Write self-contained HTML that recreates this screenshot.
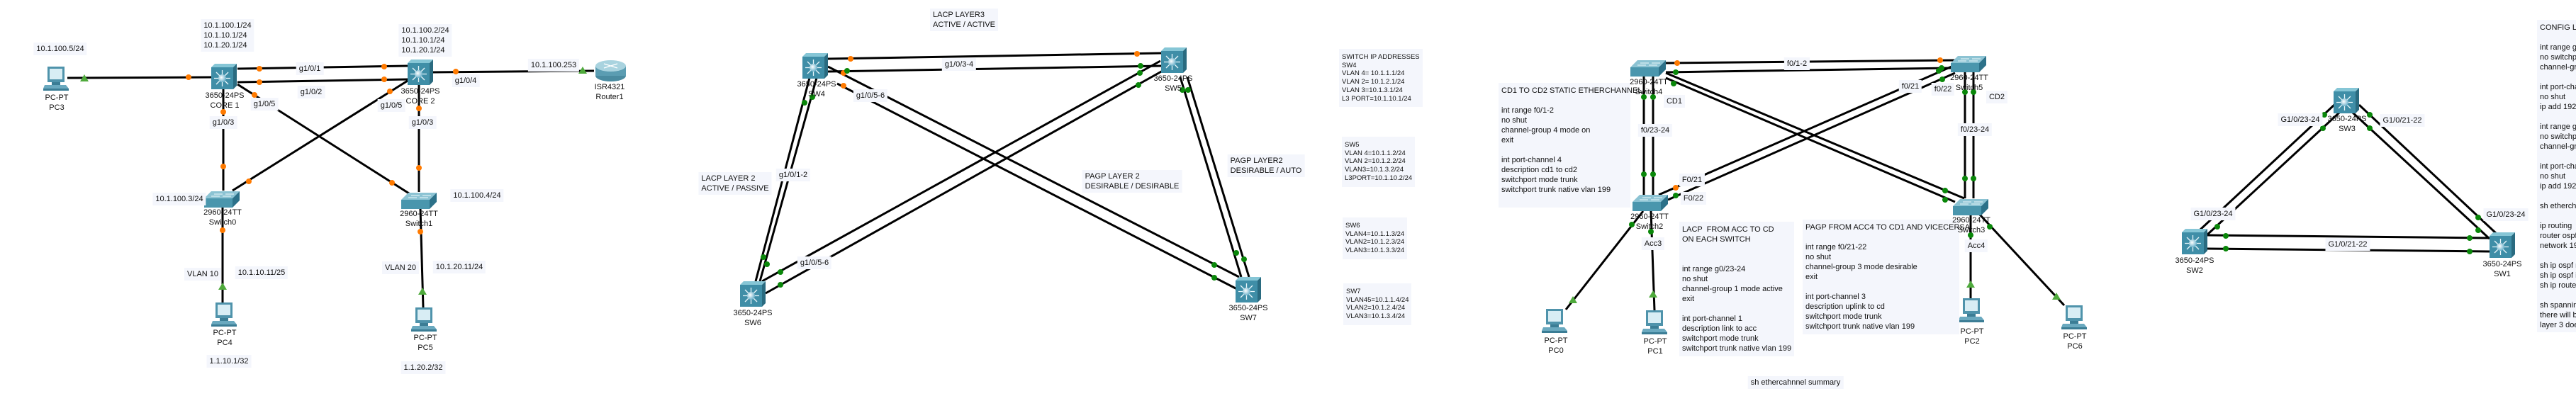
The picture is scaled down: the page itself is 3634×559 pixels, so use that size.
<!DOCTYPE html>
<html><head><meta charset="utf-8"><style>
body{margin:0;width:3634px;height:559px;overflow:hidden;background:#fff;position:relative;font-family:"Liberation Sans",sans-serif;color:#111}
svg{position:absolute;left:0;top:0}
.l,.t{position:absolute;transform:translate(-50%,-50%);font-size:11px;line-height:14px;white-space:nowrap;text-align:center}
.l{background:#f4f6fc;padding:2px 4px}
.n{position:absolute;background:#f4f6fc;font-size:11px;line-height:14px;white-space:pre;padding:4px 4px}
.s{position:absolute;background:#f4f6fc;font-size:9.5px;line-height:11.7px;white-space:pre;padding:6px 4px 6px 4px}
</style></head><body>
<svg width="3634" height="559" viewBox="0 0 3634 559">
<defs>
<radialGradient id="gb" cx="0.4" cy="0.4" r="0.6"><stop offset="0" stop-color="#fff"/><stop offset="1" stop-color="#6fb3cc"/></radialGradient>
<symbol id="ms" viewBox="0 0 36 36">
<polygon points="0,5 5,0 36,0 31,5" fill="#86c6d6"/>
<rect x="0" y="5" width="31" height="31" fill="#3f8ea7"/>
<polygon points="31,5 36,0 36,31 31,36" fill="#2a6b80"/>
<g stroke="#e8f6fa" stroke-width="1.3">
<line x1="15.5" y1="9" x2="15.5" y2="32"/><line x1="4" y1="20.5" x2="27" y2="20.5"/>
<line x1="7" y1="12" x2="24" y2="29"/><line x1="24" y1="12" x2="7" y2="29"/></g>
<circle cx="15.5" cy="20.5" r="5.5" fill="url(#gb)"/>
</symbol>
<symbol id="sw" viewBox="0 0 50 23">
<polygon points="0,10 10,0 50,0 40,10" fill="#8cc3d3"/>
<rect x="0" y="10" width="40" height="13" fill="#4a96ad"/>
<polygon points="40,10 50,0 50,13 40,23" fill="#2c7189"/>
<g stroke="#eef8fb" stroke-width="1"><line x1="14" y1="4" x2="26" y2="4"/><line x1="30" y1="4" x2="42" y2="4"/><line x1="10" y1="7" x2="22" y2="7"/><line x1="26" y1="7" x2="38" y2="7"/></g>
</symbol>
<symbol id="pc" viewBox="0 0 40 34">
<rect x="8" y="0" width="24" height="22" fill="#4f93ab"/>
<rect x="11" y="3" width="18" height="15" fill="#d8edf4"/>
<polygon points="4,26 34,26 38,31 2,31" fill="#6aa9bf"/>
<rect x="14" y="22" width="12" height="4" fill="#3b7d95"/>
<rect x="2" y="31" width="36" height="3" fill="#3b7d95"/>
</symbol>
<symbol id="rt" viewBox="0 0 43 30">
<rect x="0" y="8" width="43" height="14" fill="#5b9db2"/>
<ellipse cx="21.5" cy="22" rx="21.5" ry="8" fill="#4a8ba0"/>
<rect x="0" y="8" width="43" height="14" fill="#5b9db2"/>
<ellipse cx="21.5" cy="8" rx="21.5" ry="8" fill="#a9d3df"/>
<g stroke="#fff" stroke-width="1.3"><line x1="12" y1="5" x2="31" y2="11"/><line x1="31" y1="5" x2="12" y2="11"/></g>
</symbol>
</defs>
<g stroke="#000" stroke-width="3" fill="none">
<!-- section1 -->
<line x1="95" y1="110" x2="299" y2="109"/>
<line x1="335" y1="97" x2="575" y2="93"/>
<line x1="335" y1="116" x2="575" y2="112"/>
<line x1="610" y1="102" x2="838" y2="100"/>
<line x1="335" y1="119" x2="577" y2="273"/>
<line x1="575" y1="114" x2="328" y2="269"/>
<line x1="315" y1="125" x2="315" y2="269"/>
<line x1="591" y1="119" x2="591" y2="271"/>
<line x1="314" y1="292" x2="314" y2="428"/>
<line x1="593" y1="294" x2="597" y2="434"/>
<!-- section2 -->
<line x1="1168" y1="83" x2="1638" y2="75"/>
<line x1="1168" y1="101" x2="1638" y2="93"/>
<line x1="1168" y1="94" x2="1748" y2="391"/>
<line x1="1181" y1="118" x2="1745" y2="408"/>
<line x1="1637" y1="86" x2="1075" y2="397"/>
<line x1="1640" y1="100" x2="1080" y2="414"/>
<line x1="1142" y1="110" x2="1066" y2="397"/>
<line x1="1152" y1="110" x2="1072" y2="397"/>
<line x1="1665" y1="109" x2="1751" y2="391"/>
<line x1="1675" y1="109" x2="1762" y2="391"/>
<!-- section3 -->
<line x1="2350" y1="89" x2="2758" y2="85"/>
<line x1="2350" y1="102" x2="2753" y2="96"/>
<line x1="2319" y1="108" x2="2319" y2="275"/>
<line x1="2332" y1="108" x2="2332" y2="275"/>
<line x1="2772" y1="102" x2="2772" y2="280"/>
<line x1="2784" y1="102" x2="2784" y2="280"/>
<line x1="2350" y1="103" x2="2771" y2="280"/>
<line x1="2350" y1="110" x2="2758" y2="285"/>
<line x1="2753" y1="94" x2="2340" y2="275"/>
<line x1="2758" y1="103" x2="2353" y2="282"/>
<line x1="2318" y1="298" x2="2209" y2="437"/>
<line x1="2329" y1="298" x2="2334" y2="438"/>
<line x1="2780" y1="303" x2="2780" y2="425"/>
<line x1="2793" y1="303" x2="2912" y2="431"/>
<!-- section4 -->
<line x1="3104" y1="324" x2="3293" y2="148"/>
<line x1="3113" y1="332" x2="3300" y2="159"/>
<line x1="3328" y1="148" x2="3522" y2="330"/>
<line x1="3319" y1="159" x2="3512" y2="337"/>
<line x1="3114" y1="332" x2="3512" y2="336"/>
<line x1="3114" y1="351" x2="3512" y2="355"/>
</g>
<g fill="#ff7a00">
<circle cx="266" cy="109" r="4"/><circle cx="366" cy="97" r="4"/><circle cx="542" cy="94" r="4"/><circle cx="366" cy="116" r="4"/><circle cx="542" cy="112" r="4"/><circle cx="643" cy="101" r="4"/><circle cx="359" cy="134" r="4"/><circle cx="553" cy="258" r="4"/><circle cx="550" cy="129" r="4"/><circle cx="351" cy="256" r="4"/><circle cx="315" cy="158" r="4"/><circle cx="315" cy="235" r="4"/><circle cx="591" cy="153" r="4"/><circle cx="591" cy="237" r="4"/><circle cx="314" cy="325" r="4"/><circle cx="593" cy="327" r="4"/>
<circle cx="1200" cy="83" r="4"/><circle cx="1604" cy="76" r="4"/><circle cx="1190" cy="103" r="4"/><circle cx="1190" cy="121" r="4"/>
<circle cx="2366" cy="89" r="4"/><circle cx="2737" cy="85" r="4"/><circle cx="2364" cy="265" r="4"/>
</g>
<g fill="#0a870a">
<circle cx="1195" cy="100" r="4"/><circle cx="1609" cy="93" r="4"/><circle cx="1713" cy="374" r="4"/><circle cx="1713" cy="392" r="4"/><circle cx="1608" cy="103" r="4"/><circle cx="1606" cy="120" r="4"/><circle cx="1101" cy="384" r="4"/><circle cx="1101" cy="402" r="4"/><circle cx="1135" cy="145" r="4"/><circle cx="1146" cy="137" r="4"/><circle cx="1077" cy="363" r="4"/><circle cx="1082" cy="373" r="4"/><circle cx="1668" cy="127" r="4"/><circle cx="1676" cy="127" r="4"/><circle cx="1744" cy="357" r="4"/><circle cx="1755" cy="366" r="4"/>
<circle cx="2364" cy="102" r="4"/><circle cx="2739" cy="96" r="4"/><circle cx="2319" cy="137" r="4"/><circle cx="2332" cy="137" r="4"/><circle cx="2319" cy="246" r="4"/><circle cx="2332" cy="246" r="4"/><circle cx="2772" cy="130" r="4"/><circle cx="2784" cy="130" r="4"/><circle cx="2772" cy="252" r="4"/><circle cx="2784" cy="252" r="4"/><circle cx="2361" cy="118" r="4"/><circle cx="2744" cy="269" r="4"/><circle cx="2744" cy="282" r="4"/><circle cx="2735" cy="100" r="4"/><circle cx="2740" cy="112" r="4"/><circle cx="2364" cy="276" r="4"/><circle cx="2302" cy="317" r="4"/><circle cx="2329" cy="327" r="4"/><circle cx="2780" cy="332" r="4"/><circle cx="2807" cy="320" r="4"/>
<circle cx="3279" cy="162" r="4"/><circle cx="3277" cy="181" r="4"/><circle cx="3128" cy="320" r="4"/><circle cx="3343" cy="162" r="4"/><circle cx="3343" cy="181" r="4"/><circle cx="3496" cy="307" r="4"/><circle cx="3496" cy="325" r="4"/><circle cx="3140" cy="333" r="4"/><circle cx="3140" cy="351" r="4"/><circle cx="3484" cy="336" r="4"/><circle cx="3484" cy="355" r="4"/>
</g>
<g fill="#4faa3c">
<polygon points="119,105 125,115 113,115"/><polygon points="822,94 828,104 816,104"/><polygon points="314,399 320,409 308,409"/><polygon points="596,406 602,416 590,416"/>
<polygon points="2219,418 2225,428 2213,428"/><polygon points="2332,410 2338,420 2326,420"/><polygon points="2780,396 2786,406 2774,406"/><polygon points="2901,413 2907,423 2895,423"/>
</g>
<use href="#pc" x="59" y="94" width="40" height="34"/>
<use href="#ms" x="298" y="90" width="36" height="36"/>
<use href="#ms" x="575" y="84" width="36" height="36"/>
<use href="#rt" x="840" y="85" width="43" height="30"/>
<use href="#sw" x="288" y="270" width="50" height="23"/>
<use href="#sw" x="566" y="272" width="50" height="23"/>
<use href="#pc" x="296" y="427" width="40" height="34"/>
<use href="#pc" x="578" y="434" width="40" height="34"/>
<use href="#ms" x="1132" y="75" width="36" height="36"/>
<use href="#ms" x="1638" y="67" width="36" height="36"/>
<use href="#ms" x="1044" y="397" width="36" height="36"/>
<use href="#ms" x="1743" y="391" width="36" height="36"/>
<use href="#sw" x="2300" y="85" width="50" height="23"/>
<use href="#sw" x="2752" y="79" width="50" height="23"/>
<use href="#sw" x="2303" y="275" width="50" height="23"/>
<use href="#sw" x="2755" y="281" width="50" height="23"/>
<use href="#pc" x="2173" y="436" width="40" height="34"/>
<use href="#pc" x="2314" y="438" width="40" height="34"/>
<use href="#pc" x="2761" y="421" width="40" height="34"/>
<use href="#pc" x="2906" y="431" width="40" height="34"/>
<use href="#ms" x="3292" y="124" width="36" height="36"/>
<use href="#ms" x="3078" y="323" width="36" height="36"/>
<use href="#ms" x="3512" y="328" width="36" height="36"/>
</svg>

<!-- section 1 labels -->
<div class="l" style="left:85px;top:69px">10.1.100.5/24</div>
<div class="t" style="left:80px;top:145px">PC-PT<br>PC3</div>
<div class="l" style="left:321px;top:50px;text-align:left">10.1.100.1/24<br>10.1.10.1/24<br>10.1.20.1/24</div>
<div class="l" style="left:600px;top:57px;text-align:left">10.1.100.2/24<br>10.1.10.1/24<br>10.1.20.1/24</div>
<div class="t" style="left:317px;top:142px">3650-24PS<br>CORE 1</div>
<div class="t" style="left:593px;top:136px">3650-24PS<br>CORE 2</div>
<div class="t" style="left:860px;top:130px">ISR4321<br>Router1</div>
<div class="l" style="left:437px;top:97px">g1/0/1</div>
<div class="l" style="left:439px;top:130px">g1/0/2</div>
<div class="l" style="left:657px;top:114px">g1/0/4</div>
<div class="l" style="left:781px;top:92px">10.1.100.253</div>
<div class="l" style="left:373px;top:147px">g1/0/5</div>
<div class="l" style="left:552px;top:149px">g1/0/5</div>
<div class="l" style="left:315px;top:173px">g1/0/3</div>
<div class="l" style="left:596px;top:173px">g1/0/3</div>
<div class="l" style="left:253px;top:281px">10.1.100.3/24</div>
<div class="l" style="left:673px;top:276px">10.1.100.4/24</div>
<div class="t" style="left:314px;top:307px">2960-24TT<br>Switch0</div>
<div class="t" style="left:591px;top:309px">2960-24TT<br>Switch1</div>
<div class="l" style="left:286px;top:387px">VLAN 10</div>
<div class="l" style="left:369px;top:385px">10.1.10.11/25</div>
<div class="l" style="left:565px;top:378px">VLAN 20</div>
<div class="l" style="left:648px;top:377px">10.1.20.11/24</div>
<div class="t" style="left:317px;top:477px">PC-PT<br>PC4</div>
<div class="t" style="left:600px;top:484px">PC-PT<br>PC5</div>
<div class="l" style="left:323px;top:510px">1.1.10.1/32</div>
<div class="l" style="left:597px;top:519px">1.1.20.2/32</div>

<!-- section 2 -->
<div class="l" style="left:1360px;top:28px;text-align:left">LACP LAYER3<br>ACTIVE / ACTIVE</div>
<div class="t" style="left:1152px;top:126px">3650-24PS<br>SW4</div>
<div class="t" style="left:1655px;top:118px">3650-24PS<br>SW5</div>
<div class="t" style="left:1062px;top:449px">3650-24PS<br>SW6</div>
<div class="t" style="left:1761px;top:442px">3650-24PS<br>SW7</div>
<div class="l" style="left:1353px;top:91px">g1/0/3-4</div>
<div class="l" style="left:1228px;top:135px">g1/0/5-6</div>
<div class="l" style="left:1149px;top:371px">g1/0/5-6</div>
<div class="l" style="left:1119px;top:247px">g1/0/1-2</div>
<div class="l" style="left:1037px;top:259px;text-align:left">LACP LAYER 2<br>ACTIVE / PASSIVE</div>
<div class="l" style="left:1786px;top:234px;text-align:left">PAGP LAYER2<br>DESIRABLE / AUTO</div>
<div class="l" style="left:1597px;top:256px;text-align:left">PAGP LAYER 2<br>DESIRABLE / DESIRABLE</div>

<div class="s" style="left:1889px;top:69px">SWITCH IP ADDRESSES
SW4
VLAN 4= 10.1.1.1/24
VLAN 2= 10.1.2.1/24
VLAN 3=10.1.3.1/24
L3 PORT=10.1.10.1/24</div>
<div class="s" style="left:1893px;top:193px">SW5
VLAN 4=10.1.1.2/24
VLAN 2=10.1.2.2/24
VLAN3=10.1.3.2/24
L3PORT=10.1.10.2/24</div>
<div class="s" style="left:1894px;top:307px">SW6
VLAN4=10.1.1.3/24
VLAN2=10.1.2.3/24
VLAN3=10.1.3.3/24</div>
<div class="s" style="left:1895px;top:400px">SW7
VLAN45=10.1.1.4/24
VLAN2=10.1.2.4/24
VLAN3=10.1.3.4/24</div>

<!-- section 3 -->
<div class="n" style="left:2114px;top:117px;width:178px;height:168px">CD1 TO CD2 STATIC ETHERCHANNEL

int range f0/1-2
no shut
channel-group 4 mode on
exit

int port-channel 4
description cd1 to cd2
switchport mode trunk
switchport trunk native vlan 199</div>
<div class="n" style="left:2369px;top:313px;width:154px;height:182px">LACP  FROM ACC TO CD
ON EACH SWITCH


int range g0/23-24
no shut
channel-group 1 mode active
exit

int port-channel 1
description link to acc
switchport mode trunk
switchport trunk native vlan 199</div>
<div class="n" style="left:2543px;top:310px;width:213px;height:154px">PAGP FROM ACC4 TO CD1 AND VICECERSA

int range f0/21-22
no shut
channel-group 3 mode desirable
exit

int port-channel 3
description uplink to cd
switchport mode trunk
switchport trunk native vlan 199</div>
<div class="t" style="left:2326px;top:123px">2960-24TT<br>Switch4</div>
<div class="t" style="left:2778px;top:117px">2960-24TT<br>Switch5</div>
<div class="t" style="left:2327px;top:313px">2960-24TT<br>Switch2</div>
<div class="t" style="left:2781px;top:318px">2960-24TT<br>Switch3</div>
<div class="l" style="left:2362px;top:143px">CD1</div>
<div class="l" style="left:2817px;top:137px">CD2</div>
<div class="l" style="left:2332px;top:344px">Acc3</div>
<div class="l" style="left:2788px;top:347px">Acc4</div>
<div class="l" style="left:2535px;top:90px">f0/1-2</div>
<div class="l" style="left:2335px;top:184px">f0/23-24</div>
<div class="l" style="left:2786px;top:183px">f0/23-24</div>
<div class="l" style="left:2695px;top:122px">f0/21</div>
<div class="l" style="left:2741px;top:126px">f0/22</div>
<div class="l" style="left:2387px;top:254px">F0/21</div>
<div class="l" style="left:2389px;top:280px">F0/22</div>
<div class="t" style="left:2195px;top:488px">PC-PT<br>PC0</div>
<div class="t" style="left:2335px;top:489px">PC-PT<br>PC1</div>
<div class="t" style="left:2782px;top:475px">PC-PT<br>PC2</div>
<div class="t" style="left:2927px;top:482px">PC-PT<br>PC6</div>
<div class="l" style="left:2533px;top:540px">sh ethercahnnel  summary</div>

<!-- section 4 -->
<div class="t" style="left:3311px;top:175px">3650-24PS<br>SW3</div>
<div class="t" style="left:3096px;top:375px">3650-24PS<br>SW2</div>
<div class="t" style="left:3530px;top:380px">3650-24PS<br>SW1</div>
<div class="l" style="left:3245px;top:169px">G1/0/23-24</div>
<div class="l" style="left:3122px;top:302px">G1/0/23-24</div>
<div class="l" style="left:3389px;top:170px">G1/0/21-22</div>
<div class="l" style="left:3535px;top:303px">G1/0/23-24</div>
<div class="l" style="left:3312px;top:345px">G1/0/21-22</div>
<div class="n" style="left:3579px;top:28px;width:220px;height:433px">CONFIG LAYER 3 ETHERCHANNEL

int range g1/0/21-22
no switchport
channel-group 1 mode active

int port-channel 1
no shut
ip add 192.168.1.1 255.255.255.0

int range g1/0/23-24
no switchport
channel-group 2 mode active

int port-channel 2
no shut
ip add 192.168.2.1 255.255.255.0

sh etherchannel summary

ip routing
router ospf 1
network 192.168.0.0 0.0.255.255 area 0

sh ip ospf neighbor
sh ip ospf interface
sh ip route

sh spanning-tree
there will be no spanning tree
layer 3 does not run STP</div>
</body></html>
